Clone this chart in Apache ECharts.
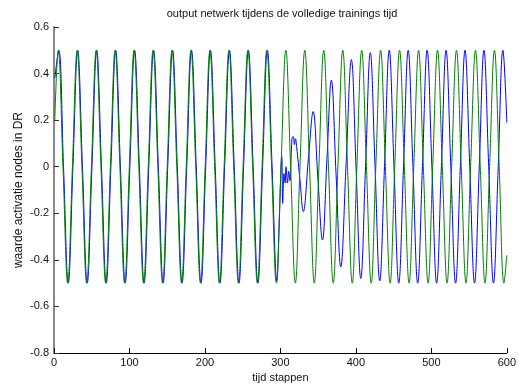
<!DOCTYPE html>
<html>
<head>
<meta charset="utf-8">
<script src="https://cdn.jsdelivr.net/npm/echarts@6/dist/echarts.min.js"></script>
<style>
html,body{margin:0;padding:0;background:#fff;}
#c{width:519px;height:388px;}
</style>
</head>
<body>
<div id="c"></div>
<script>
// x-axis tick values and y-axis tick values
const xTicks = [0, 100, 200, 300, 400, 500, 600];
const yTicks = [-0.8, -0.6, -0.4, -0.2, 0, 0.2, 0.4, 0.6];

// target signal (green): [time step, value] read at peaks, troughs and zero crossings
const targetPoints = [
[1,0.2],
[5.6,0.5],[11.9,0],[18.2,-0.5],[24.4,0],
[30.7,0.5],[37.0,0],[43.3,-0.5],[49.6,0],
[55.9,0.5],[62.2,0],[68.5,-0.5],[74.7,0],
[81.0,0.5],[87.3,0],[93.6,-0.5],[99.8,0],
[106.1,0.5],[112.4,0],[118.7,-0.5],[124.9,0],
[131.3,0.5],[137.6,0],[143.9,-0.5],[150.0,0],
[156.4,0.5],[162.7,0],[169.0,-0.5],[175.2,0],
[181.5,0.5],[187.8,0],[194.1,-0.5],[200.3,0],
[206.6,0.5],[212.9,0],[219.2,-0.5],[225.4,0],
[231.8,0.5],[238.1,0],[244.4,-0.5],[250.5,0],
[256.9,0.5],[263.2,0],[269.5,-0.5],[275.7,0],
[282.0,0.5],[288.3,0],[294.6,-0.5],[300.8,0],
[307.2,0.5],[313.5,0],[319.8,-0.5],[325.9,0],
[332.3,0.5],[338.6,0],[344.9,-0.5],[351.0,0],
[357.4,0.5],[363.7,0],[370.0,-0.5],[376.2,0],
[382.6,0.5],[388.9,0],[395.2,-0.5],[401.3,0],
[407.7,0.5],[414.0,0],[420.3,-0.5],[426.4,0],
[432.8,0.5],[439.1,0],[445.4,-0.5],[451.5,0],
[457.9,0.5],[464.2,0],[470.5,-0.5],[476.7,0],
[483.1,0.5],[489.4,0],[495.7,-0.5],[501.8,0],
[508.2,0.5],[514.5,0],[520.8,-0.5],[526.9,0],
[533.3,0.5],[539.6,0],[545.9,-0.5],[552.0,0],
[558.5,0.5],[564.8,0],[571.1,-0.5],[577.2,0],
[583.6,0.5],[589.9,0],[596.2,-0.5],[600,-0.38]
];

// network output (blue), teacher-forced part
const outputForced = [
[1,0.38],
[6.3,0.5],[12.6,0],[18.9,-0.5],[25.1,0],
[31.4,0.5],[37.7,0],[44.0,-0.5],[50.3,0],
[56.6,0.5],[62.9,0],[69.2,-0.5],[75.4,0],
[81.7,0.5],[88.0,0],[94.3,-0.5],[100.5,0],
[106.8,0.5],[113.1,0],[119.4,-0.5],[125.6,0],
[132.0,0.5],[138.3,0],[144.6,-0.5],[150.7,0],
[157.1,0.5],[163.4,0],[169.7,-0.5],[175.9,0],
[182.2,0.5],[188.5,0],[194.8,-0.5],[201.0,0],
[207.3,0.5],[213.6,0],[219.9,-0.5],[226.1,0],
[232.5,0.5],[238.8,0],[245.1,-0.5],[251.2,0],
[257.6,0.5],[263.9,0],[270.2,-0.5],[276.4,0],
[282.7,0.5],[289.0,0],[295.3,-0.49]
];
// network output (blue), disturbed part
const outputTransient = [
[298.6,-0.22],[301.8,0.043],[303.0,-0.157],[304.8,-0.03],[306.2,-0.07],[307.5,0.0],
[309.4,-0.07],[311.0,-0.02],[312.6,-0.06],[315.3,0.12],[317.0,0.13],[318.6,0.095],
[320.0,0.12],[321.5,0.087],[326.0,-0.06],[330.3,-0.193],[337.0,0.03],[343.4,0.237],
[349.5,-0.04],[355.7,-0.315],[361.6,0.03],[367.5,0.372],[373.7,-0.03],[380.0,-0.43],
[387.0,0.01],[394.0,0.46],[400.3,-0.01],[406.5,-0.48],[412.8,0]
];
// network output (blue), free-running part
const outputFree = [
[419.1,0.49],[425.4,0],[431.6,-0.49],[437.9,0],
[444.2,0.5],[450.5,0],[456.8,-0.5],[463.1,0],
[469.3,0.5],[475.6,0],[481.9,-0.5],[488.2,0],
[494.4,0.5],[500.7,0],[507.0,-0.5],[513.3,0],
[519.5,0.5],[525.8,0],[532.1,-0.5],[538.4,0],
[544.6,0.5],[550.9,0],[557.2,-0.5],[563.5,0],
[569.7,0.5],[576.0,0],[582.3,-0.5],[588.6,0],
[594.8,0.5],[600,0.19]
];

const FONT = 'Liberation Sans, Arial, Helvetica, sans-serif';
const chart = echarts.init(document.getElementById('c'), null, {renderer:'canvas'});
const option = {
  animation: false,
  backgroundColor: '#ffffff',
  title: {
    text: 'output netwerk tijdens de volledige trainings tijd',
    left: 282, top: 8, padding: 0, textAlign: 'center',
    textStyle: {fontFamily: FONT, fontSize: 11, fontWeight: 'normal', color: '#111'}
  },
  grid: {left: 54, top: 27, width: 456, height: 327, containLabel: false},
  xAxis: {
    type: 'value', min: xTicks[0], max: xTicks[xTicks.length-1], interval: 100,
    name: 'tijd stappen', nameLocation: 'middle', nameGap: 19, nameMoveOverlap: false,
    nameTextStyle: {fontFamily: FONT, fontSize: 11, color: '#111'},
    axisLine: {show: true, onZero: false, lineStyle: {color: '#000', width: 1}},
    axisTick: {show: true, inside: true, length: 5, lineStyle: {color: '#000'}},
    axisLabel: {fontFamily: FONT, fontSize: 11, color: '#111', margin: 4,
      formatter: v => String(v)},
    splitLine: {show: false}
  },
  yAxis: {
    type: 'value', min: yTicks[0], max: yTicks[yTicks.length-1], interval: 0.2,
    name: 'waarde activatie nodes in DR', nameLocation: 'middle', nameGap: 29, nameMoveOverlap: false,
    nameTextStyle: {fontFamily: FONT, fontSize: 12, color: '#111'},
    axisLine: {show: true, lineStyle: {color: '#888', width: 2}},
    axisTick: {show: true, inside: true, length: 5, lineStyle: {color: '#333'}},
    axisLabel: {fontFamily: FONT, fontSize: 11, color: '#111', margin: 5,
      formatter: v => String(Math.round(v * 10) / 10)},
    splitLine: {show: false}
  },
  series: [
    {
      name: 'output', type: 'line', data: outputForced.concat(outputTransient, outputFree),
      smooth: 0.4, showSymbol: false, lineStyle: {color: '#0000ff', width: 1}, z: 2
    },
    {
      name: 'target', type: 'line', data: targetPoints,
      smooth: 0.4, showSymbol: false, lineStyle: {color: '#008000', width: 1}, z: 3
    }
  ]
};
chart.setOption(option);
</script>
</body>
</html>
